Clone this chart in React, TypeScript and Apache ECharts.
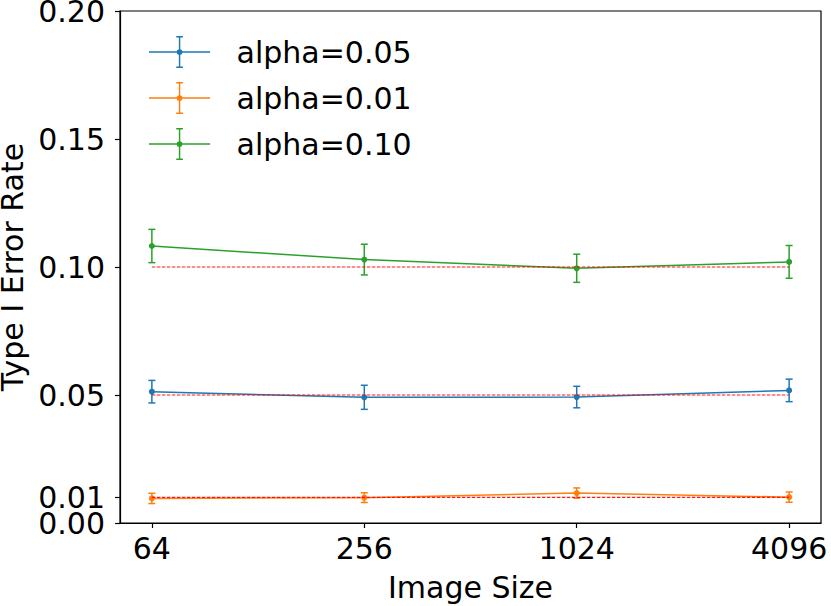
import React, { useEffect, useRef } from "react";
import * as echarts from "echarts";

const imageSizes = ["64", "256", "1024", "4096"];
const seriesNames = ["alpha=0.05", "alpha=0.01", "alpha=0.10"];
const alphaLevels = [0.05, 0.01, 0.1];
const rate005 = [0.0513, 0.0491, 0.0492, 0.0518];
const err005 = [0.0044, 0.0047, 0.0042, 0.0044];
const rate001 = [0.0096, 0.0099, 0.0117, 0.0101];
const err001 = [0.002, 0.0019, 0.002, 0.002];
const rate010 = [0.1082, 0.1029, 0.0995, 0.102];
const err010 = [0.0065, 0.006, 0.0055, 0.0064];
const yTicksMain = [0, 0.05, 0.1, 0.15, 0.2];
const yTicksExtra = [0.01];
const colors = ["#1f77b4", "#ff7f0e", "#2ca02c"];

const FONT = "DejaVu Sans";

const legendIcon =
  "path://M0 23.25h64v1.5h-64z M31.25 8h1.5v32h-1.5z M28.5 7.25h7v1.5h-7z M28.5 39.25h7v1.5h-7z M35 24A3 3 0 1 1 29 24A3 3 0 1 1 35 24z";

export default function App() {
  const ref = useRef<HTMLDivElement>(null);
  useEffect(() => {
    if (!ref.current) return;
    const chart = echarts.init(ref.current, undefined, { renderer: "svg" });
    const rates = [rate005, rate001, rate010];
    const errs = [err005, err001, err010];
    const xIdx = imageSizes.map((_, i) => i);

    const series: any[] = [];
    rates.forEach((r, k) => {
      series.push({
        name: seriesNames[k],
        type: "line",
        yAxisIndex: 0,
        data: r.map((v, i) => [xIdx[i], v]),
        symbol: "circle",
        symbolSize: 6,
        showSymbol: true,
        itemStyle: { color: colors[k] },
        lineStyle: { color: colors[k], width: 1.5 },
        z: 3,
      });
      series.push({
        name: seriesNames[k] + " err",
        type: "custom",
        yAxisIndex: 0,
        data: r.map((v, i) => [xIdx[i], v - errs[k][i], v + errs[k][i]]),
        encode: { x: 0, y: [1, 2] },
        z: 3,
        renderItem: (params: any, api: any) => {
          const x = api.value(0);
          const lo = api.coord([x, api.value(1)]);
          const hi = api.coord([x, api.value(2)]);
          const st = { stroke: colors[k], lineWidth: 1.5 };
          const cap = 3.5;
          return {
            type: "group",
            children: [
              { type: "line", shape: { x1: lo[0], y1: lo[1], x2: hi[0], y2: hi[1] }, style: st },
              { type: "line", shape: { x1: lo[0] - cap, y1: lo[1], x2: lo[0] + cap, y2: lo[1] }, style: st },
              { type: "line", shape: { x1: hi[0] - cap, y1: hi[1], x2: hi[0] + cap, y2: hi[1] }, style: st },
            ],
          };
        },
      });
    });
    alphaLevels.forEach((a, k) => {
      series.push({
        name: "ref" + k,
        type: "line",
        yAxisIndex: 0,
        data: [
          [xIdx[0], a],
          [xIdx[xIdx.length - 1], a],
        ],
        symbol: "none",
        lineStyle: { color: "#ff0000", width: 1.1, type: [3.5, 1.5], opacity: 0.9 },
        z: 5,
        silent: true,
      });
    });

    const yLabelBase = {
      formatter: (v: number) => v.toFixed(2),
      fontSize: 30,
      lineHeight: 22,
      color: "#000",
      margin: 15,
      fontFamily: FONT,
      showMinLabel: true,
      showMaxLabel: true,
      hideOverlap: false,
    };

    chart.setOption({
      animation: false,
      textStyle: { fontFamily: FONT },
      grid: {
        left: 120,
        top: 11,
        right: 10,
        bottom: 83,
        show: true,
        borderColor: "#000",
        borderWidth: 1.2,
        backgroundColor: "transparent",
        outerBoundsMode: "none",
        containLabel: false,
      },
      legend: {
        orient: "vertical",
        left: 144,
        top: 31,
        itemWidth: 64,
        itemHeight: 32,
        itemGap: 14,
        icon: legendIcon,
        data: seriesNames.map((n) => ({ name: n, icon: legendIcon })),
        textStyle: { fontSize: 30, color: "#000", fontFamily: FONT, padding: [0, 0, 0, 20] },
        selectedMode: false,
      },
      xAxis: {
        type: "value",
        min: -0.15,
        max: 3.15,
        name: "Image Size",
        nameLocation: "middle",
        nameGap: 49,
        nameTextStyle: { fontSize: 30, color: "#000", fontFamily: FONT },
        axisLine: { show: true, onZero: false, lineStyle: { color: "#000", width: 1.2 } },
        axisTick: { show: true, customValues: xIdx, length: 5, lineStyle: { color: "#000", width: 1.2 } },
        axisLabel: {
          customValues: xIdx,
          formatter: (v: number) => imageSizes[Math.round(v)] ?? "",
          fontSize: 30,
          color: "#000",
          margin: 10,
          fontFamily: FONT,
          showMinLabel: true,
          showMaxLabel: true,
        },
        splitLine: { show: false },
      },
      yAxis: [
        {
          type: "value",
          min: 0,
          max: 0.2,
          position: "left",
          name: "Type I Error Rate",
          nameLocation: "middle",
          nameGap: 87,
          nameTextStyle: { fontSize: 30, color: "#000", fontFamily: FONT },
          axisLine: { show: true, onZero: false, lineStyle: { color: "#000", width: 1.2 } },
          axisTick: { show: true, customValues: yTicksMain, length: 5, lineStyle: { color: "#000", width: 1.2 } },
          axisLabel: { ...yLabelBase, customValues: yTicksMain },
          splitLine: { show: false },
        },
        {
          type: "value",
          min: 0,
          max: 0.2,
          position: "left",
          offset: 0,
          axisLine: { show: false, onZero: false },
          axisTick: { show: true, customValues: yTicksExtra, length: 5, lineStyle: { color: "#000", width: 1.2 } },
          axisLabel: { ...yLabelBase, customValues: yTicksExtra },
          splitLine: { show: false },
        },
      ],
      series,
    });
    return () => chart.dispose();
  }, []);
  return (
    <div
      ref={ref}
      style={{ position: "fixed", left: 0, top: 0, width: 831, height: 606, background: "#fff" }}
    />
  );
}
